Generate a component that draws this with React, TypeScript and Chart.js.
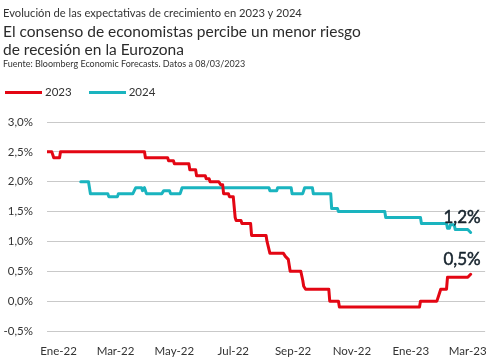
import React, { useEffect, useRef } from 'react';
import { Chart, registerables } from 'chart.js';

Chart.register(...registerables);

// ---------- data ----------
const SERIES_NAMES = ['2023', '2024'];
const SERIES_COLORS = ['#e30613', '#1ab4bf'];
const END_LABELS = ['0,5%', '1,2%'];

const DATES_2023 = [
  '2021-12-20', '2021-12-25', '2021-12-27', '2022-01-02', '2022-01-03', '2022-03-31',
  '2022-04-01', '2022-04-24', '2022-04-25', '2022-04-30', '2022-05-01', '2022-05-16',
  '2022-05-17', '2022-05-23', '2022-05-24', '2022-06-02', '2022-06-03', '2022-06-06',
  '2022-06-07', '2022-06-16', '2022-06-18', '2022-06-20', '2022-06-21', '2022-06-26',
  '2022-06-27', '2022-07-01', '2022-07-03', '2022-07-04', '2022-07-09', '2022-07-10',
  '2022-07-19', '2022-07-20', '2022-08-04', '2022-08-05', '2022-08-08', '2022-08-22',
  '2022-08-24', '2022-08-27', '2022-08-29', '2022-09-09', '2022-09-11', '2022-09-12',
  '2022-09-14', '2022-10-08', '2022-10-09', '2022-10-18', '2022-10-19', '2023-01-10',
  '2023-01-11', '2023-01-28', '2023-01-30', '2023-02-01', '2023-02-07', '2023-02-08',
  '2023-03-01', '2023-03-04',
];
const VALUES_2023 = [
  2.5, 2.5, 2.4, 2.4, 2.5, 2.5,
  2.4, 2.4, 2.35, 2.35, 2.3, 2.3,
  2.2, 2.2, 2.1, 2.1, 2.05, 2.05,
  2.0, 2.0, 1.95, 1.95, 1.8, 1.8,
  1.75, 1.75, 1.4, 1.35, 1.35, 1.3,
  1.3, 1.1, 1.1, 1.0, 0.8, 0.8,
  0.75, 0.7, 0.5, 0.5, 0.35, 0.25,
  0.2, 0.2, 0.0, 0.0, -0.1, -0.1,
  0.0, 0.0, 0.1, 0.2, 0.2, 0.4,
  0.4, 0.45,
];

const DATES_2024 = [
  '2022-01-24', '2022-02-01', '2022-02-03', '2022-02-21', '2022-02-22', '2022-03-03',
  '2022-03-04', '2022-03-19', '2022-03-22', '2022-03-28', '2022-03-29', '2022-03-31',
  '2022-04-02', '2022-04-18', '2022-04-20', '2022-04-26', '2022-04-27', '2022-05-07',
  '2022-05-09', '2022-08-07', '2022-08-08', '2022-08-15', '2022-08-16', '2022-08-30',
  '2022-08-31', '2022-09-11', '2022-09-13', '2022-09-21', '2022-09-22', '2022-10-10',
  '2022-10-11', '2022-10-17', '2022-10-18', '2022-12-05', '2022-12-06', '2023-01-11',
  '2023-01-12', '2023-02-07', '2023-02-08', '2023-02-10', '2023-02-11', '2023-02-15',
  '2023-02-16', '2023-03-01', '2023-03-04',
];
const VALUES_2024 = [
  2.0, 2.0, 1.8, 1.8, 1.75, 1.75,
  1.8, 1.8, 1.9, 1.9, 1.85, 1.9,
  1.8, 1.8, 1.85, 1.85, 1.8, 1.8,
  1.9, 1.9, 1.85, 1.85, 1.9, 1.9,
  1.8, 1.8, 1.9, 1.9, 1.8, 1.8,
  1.55, 1.55, 1.5, 1.5, 1.4, 1.4,
  1.3, 1.3, 1.22, 1.22, 1.28, 1.28,
  1.2, 1.2, 1.15,
];

const X_RANGE = ['2021-12-20', '2023-03-19'];
const X_TICK_DATES = [
  '2022-01-01', '2022-03-01', '2022-05-01', '2022-07-01',
  '2022-09-01', '2022-11-01', '2023-01-01', '2023-03-01',
];
const X_TICK_LABELS = ['Ene-22', 'Mar-22', 'May-22', 'Jul-22', 'Sep-22', 'Nov-22', 'Ene-23', 'Mar-23'];
const Y_MIN = -0.5;
const Y_MAX = 3.0;
const Y_STEP = 0.5;

const SUPER_TITLE = 'Evolución de las expectativas de crecimiento en 2023 y 2024';
const TITLE_LINES = ['El consenso de economistas percibe un menor riesgo', 'de recesión en la Eurozona'];
const SOURCE = 'Fuente: Bloomberg Economic Forecasts. Datos a 08/03/2023';

// ---------- helpers ----------
const DAY = 86400000;
const toDay = (s: string) => Date.parse(s) / DAY;

const FONT = 'Lato';
const TEXT = '#333333';

const endLabelPlugin = {
  id: 'endLabels',
  afterDatasetsDraw(chart: any) {
    const ctx = chart.ctx;
    chart.data.datasets.forEach((_ds: any, i: number) => {
      const meta = chart.getDatasetMeta(i);
      const pt = meta.data[meta.data.length - 1];
      if (!pt) return;
      ctx.save();
      ctx.font = `17px ${FONT}`;
      ctx.fillStyle = '#17242e';
      ctx.strokeStyle = '#17242e';
      ctx.lineWidth = 0.5;
      ctx.textAlign = 'right';
      ctx.textBaseline = 'alphabetic';
      ctx.fillText(END_LABELS[i], pt.x + 10, pt.y - 9.5);
      ctx.strokeText(END_LABELS[i], pt.x + 10, pt.y - 9.5);
      ctx.restore();
    });
  },
};

export default function App() {
  const canvasRef = useRef<HTMLCanvasElement | null>(null);

  useEffect(() => {
    if (!canvasRef.current) return;
    const series = [
      { dates: DATES_2023, values: VALUES_2023 },
      { dates: DATES_2024, values: VALUES_2024 },
    ];
    const tickDays = X_TICK_DATES.map(toDay);
    const chart = new Chart(canvasRef.current, {
      type: 'line',
      data: {
        datasets: series.map((s, i) => ({
          label: SERIES_NAMES[i],
          data: s.dates.map((d, j) => ({ x: toDay(d), y: s.values[j] })),
          borderColor: SERIES_COLORS[i],
          backgroundColor: SERIES_COLORS[i],
          borderWidth: 3,
          pointRadius: 0,
          tension: 0,
          borderJoinStyle: 'round' as const,
          borderCapStyle: 'round' as const,
        })),
      },
      options: {
        animation: false,
        responsive: false,
        layout: { padding: { top: 122, left: 0, right: 9, bottom: 0 } },
        plugins: {
          legend: { display: false },
          title: { display: false },
          tooltip: { enabled: false },
        },
        scales: {
          x: {
            type: 'linear',
            min: toDay(X_RANGE[0]),
            max: toDay(X_RANGE[1]),
            grid: { display: false, drawTicks: false },
            border: { display: false },
            afterBuildTicks: (scale: any) => {
              scale.ticks = tickDays.map((v) => ({ value: v }));
            },
            afterFit: (scale: any) => {
              scale.height = 31;
            },
            ticks: {
              autoSkip: false,
              maxRotation: 0,
              padding: 13,
              color: TEXT,
              font: { family: FONT, size: 11.5 },
              callback: (_v: any, idx: number) => X_TICK_LABELS[idx],
            },
          },
          y: {
            min: Y_MIN,
            max: Y_MAX,
            grid: { color: '#c9c9c9', lineWidth: 1, drawTicks: false },
            border: { display: false },
            afterFit: (scale: any) => {
              scale.width = 47;
            },
            ticks: {
              stepSize: Y_STEP,
              padding: 14,
              color: TEXT,
              font: { family: FONT, size: 11.5 },
              callback: (v: any) => Number(v).toFixed(1).replace('.', ',') + '%',
            },
          },
        },
      },
      plugins: [endLabelPlugin],
    } as any);
    return () => chart.destroy();
  }, []);

  const abs = (top: number, size: number, extra: any = {}) => ({
    position: 'absolute' as const,
    left: 3,
    top,
    fontFamily: FONT,
    fontSize: size,
    lineHeight: 1.2,
    color: TEXT,
    whiteSpace: 'nowrap' as const,
    ...extra,
  });

  return (
    <div style={{ position: 'fixed', left: 0, top: 0, width: 500, height: 362, background: '#fff', overflow: 'hidden' }}>
      <canvas ref={canvasRef} width={500} height={362} style={{ position: 'absolute', left: 0, top: 0, width: 500, height: 362 }} />
      <div style={abs(6.2, 11.2)}>{SUPER_TITLE}</div>
      <div style={abs(21.5, 15.5, { lineHeight: '18.3px', color: '#2b2b2b' })}>
        {TITLE_LINES.map((l, i) => (
          <div key={i}>{l}</div>
        ))}
      </div>
      <div style={abs(59.4, 9)}>{SOURCE}</div>
      <div style={{ position: 'absolute', left: 5, top: 85.4, display: 'flex', alignItems: 'center', fontFamily: FONT, fontSize: 11.5, lineHeight: 1.2, color: TEXT }}>
        {SERIES_NAMES.map((n, i) => (
          <div key={n} style={{ display: 'flex', alignItems: 'center', marginRight: 17 }}>
            <span style={{ display: 'inline-block', width: 37, height: 3, background: SERIES_COLORS[i], marginRight: 3 }} />
            <span>{n}</span>
          </div>
        ))}
      </div>
    </div>
  );
}
